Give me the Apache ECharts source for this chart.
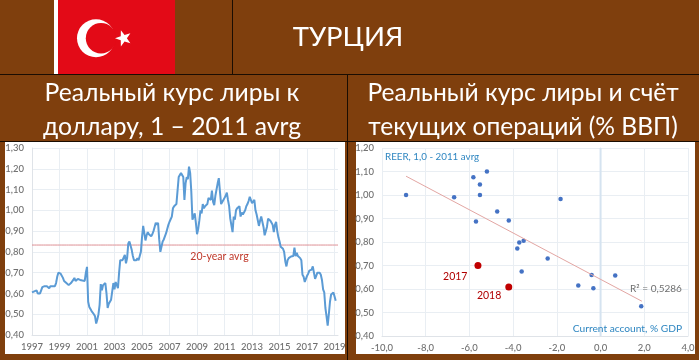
<!DOCTYPE html>
<html><head><meta charset="utf-8">
<style>html,body{margin:0;padding:0;background:#7f3f0d}#c{width:699px;height:360px}</style>
<script src="https://cdn.jsdelivr.net/npm/echarts@6/dist/echarts.min.js"></script>
</head><body><div id="c"></div>
<script>
const years=[1997,1998,1999,2000,2001,2002,2003,2004,2005,2006,2007,2008,2009,2010,2011,2012,2013,2014,2015,2016,2017,2018,2019];
const rate=[
.605,.605,.61,.615,.615,.60,.595,.60,.615,.63,.635,.635,
.64,.635,.63,.625,.635,.63,.635,.63,.635,.65,.68,.70,
.70,.695,.69,.675,.66,.655,.65,.645,.64,.645,.65,.655,
.665,.675,.66,.66,.67,.672,.665,.668,.662,.665,.66,.70,
.728,.56,.535,.525,.515,.52,.50,.49,.455,.475,.50,.545,
.645,.615,.64,.645,.65,.60,.53,.55,.56,.57,.575,.65,
.62,.655,.65,.625,.70,.76,.765,.76,.765,.785,.745,.77,
.84,.85,.858,.81,.78,.76,.765,.76,.77,.76,.78,.80,
.87,.925,.89,.855,.88,.895,.885,.88,.875,.885,.90,.92,
.94,.93,.94,.86,.80,.80,.85,.86,.855,.89,.91,.93,
.945,.95,.97,1.01,1.02,1.02,1.03,1.03,1.16,1.17,1.18,1.185,
1.16,1.05,1.13,1.16,1.15,1.21,1.18,1.09,.955,.97,.985,.94,
.885,.91,.95,1.0,.985,1.03,1.01,1.02,1.02,1.03,1.06,1.065,
1.05,1.095,1.04,1.025,1.07,1.065,1.13,1.155,1.09,1.03,1.04,1.05,
1.06,1.07,1.085,1.05,1.02,.96,.965,.895,.97,.955,1.0,1.01,
1.015,1.02,.97,.99,.98,.985,1.0,1.02,1.03,1.045,1.065,1.06,
1.035,1.04,1.05,1.0,.98,.975,.925,.95,.97,.965,.92,.88,
.90,.92,.96,.955,.95,.94,.93,.895,.93,.945,.90,.87,
.85,.825,.82,.815,.80,.755,.73,.76,.77,.775,.778,.78,
.78,.82,.78,.795,.78,.78,.77,.76,.69,.68,.655,.67,
.685,.695,.71,.715,.715,.73,.70,.67,.685,.70,.705,.70,
.69,.665,.62,.605,.53,.49,.445,.50,.56,.595,.595,.605,
.585,.565,null,null];
const avgLevel=0.833;
const currentAccount=[-8.9,-6.7,-5.82,-5.2,-5.52,-5.52,-5.7,-4.73,-4.2,-1.83,-3.72,-3.52,-3.81,-2.42,-3.61,-0.41,0.67,-1.02,-0.33,1.86];
const reer=[1.00,.99,1.076,1.10,1.045,1.00,.887,.93,.892,.983,.798,.805,.772,.73,.675,.66,.657,.615,.603,.527];
const highlightNames=['2017','2018'];
const highlightX=[-5.61,-4.2];
const highlightY=[.70,.608];
const trendX=[-8.9,1.89];
const trendY=[1.08,.548];
const zeroLineY=[.4,1.2];

const months=[];
years.forEach(y=>{for(let m=1;m<=12;m++){months.push(y+'-'+String(m).padStart(2,'0'));}});
const categories=months.slice(0,rate.length);
const avgSeries=categories.map(()=>avgLevel);

const FONT='Lato, Carlito, "Open Sans", sans-serif';
const BROWN='#7f3f0d', GRID='#e9eef3', TICK='#6f6f6f';
function comma(d){return v=>v.toFixed(d).replace('.',',');}
function starPoints(cx,cy,R,r,rot){const p=[];for(let i=0;i<10;i++){const a=rot+i*Math.PI/5,q=i%2?r:R;p.push([cx+q*Math.cos(a),cy+q*Math.sin(a)]);}return p;}
const hl=(x,y,w,c)=>({type:'rect',z:-5,silent:true,shape:{x,y,width:w,height:1},style:{fill:c}});
const vl=(x,y,h,c)=>({type:'rect',z:-5,silent:true,shape:{x,y,width:1,height:h},style:{fill:c}});
const txt=(x,y,t,size,color,align)=>({type:'text',z:50,x,y,silent:true,style:{text:t,fill:color,font:size+'px '+FONT,textAlign:align||'center',textVerticalAlign:'middle'}});

const graphics=[
 {type:'rect',z:-6,silent:true,shape:{x:5,y:142,width:340,height:212},style:{fill:'#fff'}},
 {type:'rect',z:-6,silent:true,shape:{x:356,y:142,width:339,height:212},style:{fill:'#fff'}},
 hl(0,74,699,'#1a0d02'),hl(0,141,699,'#1a0d02'),vl(232,0,74,'#1a0d02'),vl(347,74,286,'#1a0d02'),
 {type:'rect',z:-5,silent:true,shape:{x:54,y:0,width:4,height:74},style:{fill:'#fff'}},
 {type:'rect',z:-5,silent:true,shape:{x:58,y:0,width:117,height:74},style:{fill:'#e30a17'}},
 {type:'circle',z:-4,silent:true,shape:{cx:96,cy:38.3,r:19},style:{fill:'#fff'}},
 {type:'circle',z:-3,silent:true,shape:{cx:101,cy:38.3,r:15.2},style:{fill:'#e30a17'}},
 {type:'polygon',z:-3,silent:true,shape:{points:starPoints(123.5,38.3,8.5,3.4,Math.PI)},style:{fill:'#fff'}},
 txt(348,37,'ТУРЦИЯ',27.5,'#fff'),
 txt(172,93,'Реальный курс лиры к',24.7,'#fff'),
 txt(172,127,'доллару, 1 – 2011 avrg',24.7,'#fff'),
 txt(523,93,'Реальный курс лиры и счёт',24.6,'#fff'),
 txt(523,127,'текущих операций (% ВВП)',24.6,'#fff'),
 txt(219.5,257,'20-year avrg',10.5,'#c0392b'),
 txt(385,157,'REER, 1,0 - 2011 avrg',9.8,'#2e86c1','left'),
 txt(656,289,'R² = 0,5286',10,'#6f6f6f'),
 txt(682,329,'Current account, % GDP',10.2,'#2e86c1','right')
];
const axisCommon={axisTick:{show:false},axisLine:{show:true,lineStyle:{color:'#dfe3e8',width:1}},splitLine:{show:true,lineStyle:{color:GRID,width:1}}};
const lbl={color:TICK,fontFamily:FONT,fontSize:9.5,fontWeight:500};
const option={
 animation:false,backgroundColor:BROWN,
 graphic:{elements:graphics},
 grid:[{left:32,top:148,width:306,height:187},{left:382,top:148,width:306,height:188}],
 xAxis:[
  Object.assign({},axisCommon,{gridIndex:0,type:'category',boundaryGap:false,data:categories,
    splitLine:{show:true,interval:23,lineStyle:{color:GRID,width:1}},
    axisLabel:Object.assign({},lbl,{interval:23,margin:7,formatter:v=>v.slice(0,4)})}),
  Object.assign({},axisCommon,{gridIndex:1,type:'value',min:-10,max:4,interval:2,
    axisLabel:Object.assign({},lbl,{margin:7,formatter:comma(1)})})
 ],
 yAxis:[
  Object.assign({},axisCommon,{gridIndex:0,type:'value',min:.4,max:1.3,interval:.1,
    axisLabel:Object.assign({},lbl,{margin:8,formatter:comma(2)})}),
  Object.assign({},axisCommon,{gridIndex:1,type:'value',min:.4,max:1.2,interval:.1,
    axisLabel:Object.assign({},lbl,{margin:8,formatter:comma(2)})})
 ],
 series:[
  {type:'line',xAxisIndex:0,yAxisIndex:0,data:avgSeries,showSymbol:false,symbol:'none',lineStyle:{color:'#dd8f94',width:1}},
  {type:'line',xAxisIndex:0,yAxisIndex:0,data:rate,showSymbol:false,symbol:'none',connectNulls:false,
   lineStyle:{color:'#5b9bd5',width:2}},
  {type:'line',xAxisIndex:1,yAxisIndex:1,data:zeroLineY.map(y=>[0,y]),symbol:'none',lineStyle:{color:'#d5e3f0',width:2}},
  {type:'line',xAxisIndex:1,yAxisIndex:1,data:trendX.map((x,i)=>[x,trendY[i]]),symbol:'none',lineStyle:{color:'#e3a6a3',width:1}},
  {type:'scatter',xAxisIndex:1,yAxisIndex:1,data:currentAccount.map((x,i)=>[x,reer[i]]),symbolSize:4.5,itemStyle:{color:'#4472c4',opacity:1}},
  {type:'scatter',xAxisIndex:1,yAxisIndex:1,symbolSize:7,itemStyle:{color:'#c00000',opacity:1},
   data:highlightX.map((x,i)=>({name:highlightNames[i],value:[x,highlightY[i]],
     label:{show:true,formatter:'{b}',color:'#b00000',fontFamily:FONT,fontSize:10.5,position:'left',offset:i?[1,8]:[-2,11]}}))}
 ]
};
echarts.init(document.getElementById('c')).setOption(option);
</script></body></html>
